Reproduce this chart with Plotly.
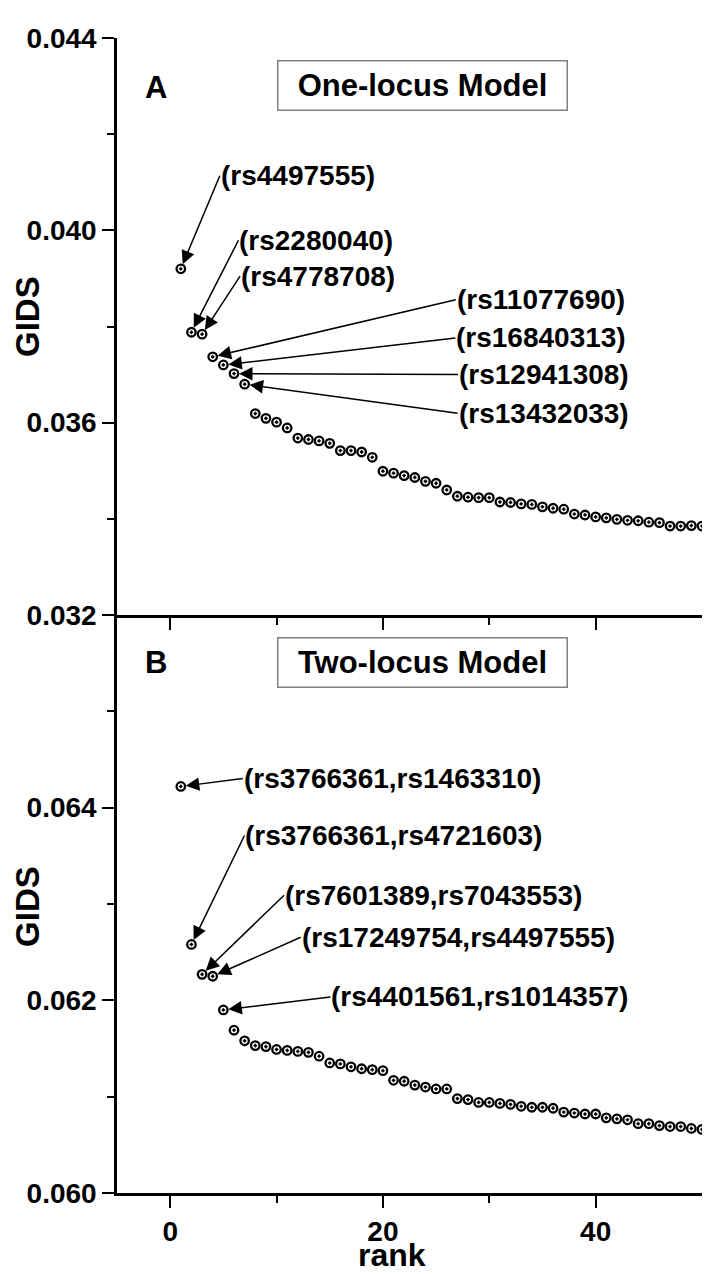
import plotly.graph_objects as go

# ---------------- data ----------------
ranks = list(range(1, 51))

gids_one_locus = [
    0.03920, 0.03788, 0.03784, 0.03737, 0.03720, 0.03702, 0.03680, 0.03619, 0.03609, 0.03601,
    0.03589, 0.03568, 0.03565, 0.03562, 0.03557, 0.03542, 0.03542, 0.03539, 0.03528, 0.03499,
    0.03495, 0.03490, 0.03486, 0.03478, 0.03474, 0.03460, 0.03447, 0.03445, 0.03444, 0.03444,
    0.03435, 0.03434, 0.03431, 0.03430, 0.03425, 0.03422, 0.03420, 0.03410, 0.03408, 0.03404,
    0.03402, 0.03399, 0.03397, 0.03396, 0.03393, 0.03392, 0.03385, 0.03385, 0.03386, 0.03385,
]

gids_two_locus = [
    0.06422, 0.06258, 0.06227, 0.06225, 0.06190, 0.06169, 0.06158, 0.06153, 0.06152, 0.06149,
    0.06148, 0.06147, 0.06146, 0.06142, 0.06135, 0.06134, 0.06131, 0.06129, 0.06128, 0.06127,
    0.06117, 0.06116, 0.06112, 0.06110, 0.06108, 0.06108, 0.06098, 0.06097, 0.06094, 0.06094,
    0.06093, 0.06092, 0.06090, 0.06089, 0.06089, 0.06088, 0.06084, 0.06083, 0.06082, 0.06082,
    0.06078, 0.06077, 0.06076, 0.06072, 0.06072, 0.06070, 0.06069, 0.06069, 0.06067, 0.06066,
]

labels_one_locus = ["(rs4497555)", "(rs2280040)", "(rs4778708)", "(rs11077690)",
                    "(rs16840313)", "(rs12941308)", "(rs13432033)"]
labels_two_locus = ["(rs3766361,rs1463310)", "(rs3766361,rs4721603)", "(rs7601389,rs7043553)",
                    "(rs17249754,rs4497555)", "(rs4401561,rs1014357)"]

x_ticks = [0, 20, 40]
y_ticks_one = [0.032, 0.036, 0.040, 0.044]
y_minor_one = [0.034, 0.038, 0.042]
y_ticks_two = [0.060, 0.062, 0.064]
y_minor_two = [0.061, 0.063, 0.065]

# label offsets in pixels (text left edge relative to the labelled point)
offsets_one = [(39, -93), (47, -92), (38, -58), (243, -57), (232, -27), (224, 1), (213, 29)]
offsets_two = [(62, -8), (53, -109), (82, -79), (88, -39), (107, -13)]

FONT = "Liberation Sans, Arial, Helvetica, sans-serif"

fig = go.Figure()

marker = dict(symbol="circle-open-dot", size=8.5, color="black", line=dict(width=2.3, color="black"))
fig.add_trace(go.Scatter(x=ranks, y=gids_one_locus, mode="markers", marker=marker,
                         xaxis="x", yaxis="y", showlegend=False))
fig.add_trace(go.Scatter(x=ranks, y=gids_two_locus, mode="markers", marker=marker,
                         xaxis="x2", yaxis="y2", showlegend=False))

tickfont = dict(family=FONT, size=28, color="black", weight="bold")
xrange = [-5, 50]
ydom_split = 578 / 1155

common_x = dict(range=xrange, showline=True, linewidth=2.5, linecolor="black", zeroline=False,
                showgrid=False, ticks="outside", ticklen=12, tickwidth=2, tickcolor="black",
                tickmode="array", tickvals=x_ticks,
                minor=dict(tickmode="array", tickvals=[10, 30], ticks="outside", ticklen=7,
                           tickwidth=2, tickcolor="black"))

fig.update_layout(
    width=704, height=1274,
    margin=dict(l=117, r=2, t=38, b=81),
    paper_bgcolor="white", plot_bgcolor="white",
    xaxis=dict(**common_x, anchor="y", showticklabels=False),
    xaxis2=dict(**common_x, anchor="y2", showticklabels=True, tickfont=tickfont, matches="x"),
    xaxis3=dict(range=xrange, overlaying="x", side="top", anchor="y", showline=True,
                linewidth=2.5, linecolor="black", showgrid=False, zeroline=False,
                ticks="inside", ticklen=10, tickwidth=2, tickcolor="black",
                tickmode="array", tickvals=[0, 10, 20, 30, 40], showticklabels=False),
    yaxis=dict(domain=[ydom_split, 1], range=[0.032, 0.044], anchor="x",
               showline=True, linewidth=2.5, linecolor="black", showgrid=False, zeroline=False,
               ticks="outside", ticklen=12, tickwidth=2, tickcolor="black",
               tickmode="array", tickvals=y_ticks_one, tickformat=".3f", tickfont=tickfont,
               minor=dict(tickmode="array", tickvals=y_minor_one, ticks="outside", ticklen=7,
                          tickwidth=2, tickcolor="black")),
    yaxis2=dict(domain=[0, ydom_split], range=[0.060, 0.066], anchor="x2",
                showline=True, linewidth=2.5, linecolor="black", showgrid=False, zeroline=False,
                ticks="outside", ticklen=12, tickwidth=2, tickcolor="black",
                tickmode="array", tickvals=y_ticks_two, tickformat=".3f", tickfont=tickfont,
                minor=dict(tickmode="array", tickvals=y_minor_two, ticks="outside", ticklen=7,
                           tickwidth=2, tickcolor="black")),
    yaxis3=dict(range=[0.032, 0.044], overlaying="y", side="right", anchor="x",
                showline=True, linewidth=2.5, linecolor="black", showgrid=False, zeroline=False,
                ticks="inside", ticklen=10, tickwidth=2, tickcolor="black",
                tickmode="array", tickvals=y_ticks_one + y_minor_one, showticklabels=False),
    yaxis4=dict(range=[0.060, 0.066], overlaying="y2", side="right", anchor="x2",
                showline=True, linewidth=2.5, linecolor="black", showgrid=False, zeroline=False,
                ticks="inside", ticklen=11, tickwidth=2, tickcolor="black",
                tickmode="array", tickvals=y_ticks_two, showticklabels=False,
                minor=dict(tickmode="array", tickvals=y_minor_two, ticks="inside", ticklen=7,
                           tickwidth=2, tickcolor="black")),
)

lab_font = dict(family=FONT, size=28, color="black", weight="bold")
arrow_style = dict(arrowhead=2, arrowsize=1.8, arrowwidth=1.5, arrowcolor="black", standoff=5)

for i, (lab, (ax, ay)) in enumerate(zip(labels_one_locus, offsets_one)):
    fig.add_annotation(x=ranks[i], y=gids_one_locus[i], xref="x", yref="y", text=lab,
                       showarrow=True, ax=ax, ay=ay, xanchor="left", yanchor="middle",
                       font=lab_font, borderpad=0, **arrow_style)

for i, (lab, (ax, ay)) in enumerate(zip(labels_two_locus, offsets_two)):
    fig.add_annotation(x=ranks[i], y=gids_two_locus[i], xref="x2", yref="y2", text=lab,
                       showarrow=True, ax=ax, ay=ay, xanchor="left", yanchor="middle",
                       font=lab_font, borderpad=0, **arrow_style)

box_font = dict(family=FONT, size=31, color="black", weight="bold")
for xref, yref, txt in [("x domain", "y domain", "One-locus Model"),
                        ("x2 domain", "y2 domain", "Two-locus Model")]:
    fig.add_annotation(x=0.5214, y=0.917, xref=xref, yref=yref, text=txt, showarrow=False,
                       font=box_font, bordercolor="#808080", borderwidth=1.5, borderpad=2,
                       bgcolor="white", width=284, height=44, xanchor="center", yanchor="middle")

panel_font = dict(family=FONT, size=31, color="black", weight="bold")
fig.add_annotation(x=0.0667, y=0.915, xref="x domain", yref="y domain", text="A",
                   showarrow=False, font=panel_font, xanchor="center", yanchor="middle")
fig.add_annotation(x=0.0667, y=0.917, xref="x2 domain", yref="y2 domain", text="B",
                   showarrow=False, font=panel_font, xanchor="center", yanchor="middle")

title_font = dict(family=FONT, size=33, color="black", weight="bold")
fig.add_annotation(x=-0.154, y=0.518, xref="paper", yref="y domain", text="GIDS",
                   textangle=-90, showarrow=False, font=title_font,
                   xanchor="center", yanchor="middle")
fig.add_annotation(x=-0.154, y=0.4965, xref="paper", yref="y2 domain", text="GIDS",
                   textangle=-90, showarrow=False, font=title_font,
                   xanchor="center", yanchor="middle")
fig.add_annotation(x=0.470, y=-81 / 1155, xref="paper", yref="paper", text="rank",
                   showarrow=False, font=dict(family=FONT, size=32, color="black", weight="bold"),
                   xanchor="center", yanchor="bottom", borderpad=0)

fig.write_html("out.html", config={"displayModeBar": False},
               post_script="document.body.style.margin='0';document.body.style.overflow='hidden';")
